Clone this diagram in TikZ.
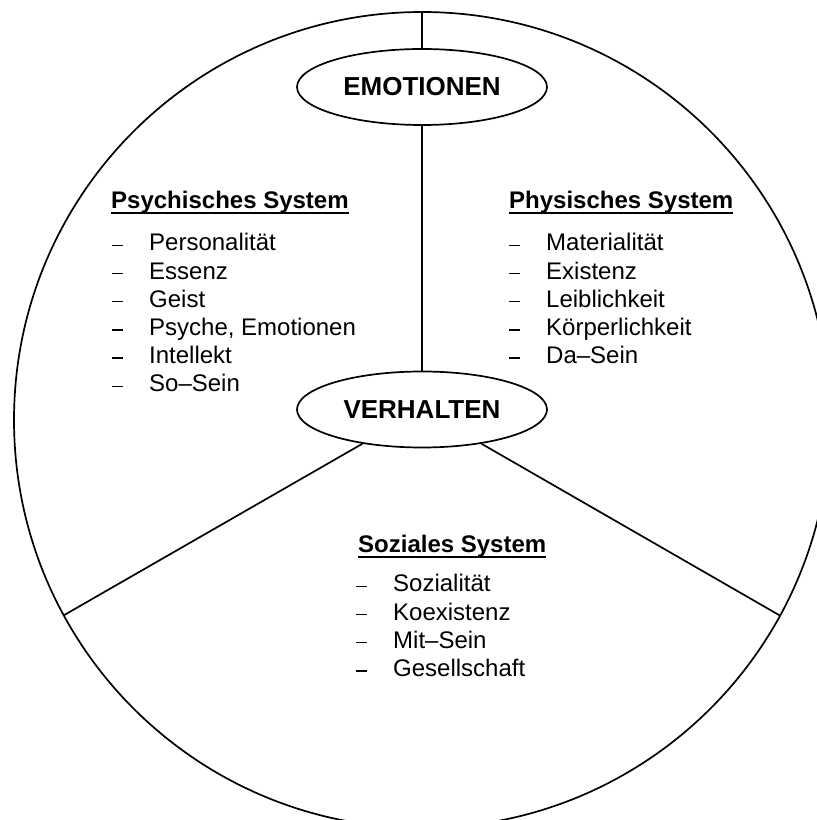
\documentclass[tikz,border=0pt]{standalone}
\usepackage{fontspec}
\setmainfont{Liberation Sans}
\usetikzlibrary{shapes.geometric}

% bullet dash and underlined heading
\newcommand{\dashmark}{\rule[5pt]{11pt}{1.4pt}\hspace{26pt}}
\newcommand{\ulhead}[1]{\setbox0\hbox{#1}\rlap{\rule[-4.7pt]{\wd0}{2pt}}\box0}

\begin{document}
\begin{tikzpicture}[x=1pt,y=1pt,
  frame/.style={line width=1.7pt},
  link/.style={line width=1.7pt},
  bubble/.style={ellipse, draw, line width=1.7pt, fill=white,
    minimum width=250pt, minimum height=76pt, inner sep=0pt,
    font=\fontsize{26}{30}\selectfont\bfseries},
  head/.style={anchor=base west, inner sep=0pt,
    font=\fontsize{24}{28}\selectfont\bfseries},
  item/.style={anchor=base west, inner sep=0pt,
    font=\fontsize{24}{28}\selectfont}]
\useasboundingbox (0,0) rectangle (817,820);
\clip (0,0) rectangle (817,820);

% outer circle and its three division points
\coordinate (C) at (422,400);
\draw[frame] (C) circle (408pt);
\coordinate (top) at ([shift={(90:408)}]C);
\coordinate (pl) at ([shift={(208.6:408)}]C);
\coordinate (pr) at ([shift={(331.35:408)}]C);

% the two central ellipses
\node[bubble] (emo) at (422,733) {EMOTIONEN};
\node[bubble] (verh) at (422,410.5) {VERHALTEN};

% dividing lines
\draw[link] (top) -- (emo);
\draw[link] (emo) -- (verh);
\draw[link] (verh) -- (pl);
\draw[link] (verh) -- (pr);

% psychisches System
\node[head] (psyh) at (111,611) {\ulhead{Psychisches System}};
\node[item] (psy1) at (112,569) {\dashmark Personalität};
\node[item] (psy2) at (112,540.8) {\dashmark Essenz};
\node[item] (psy3) at (112,512.6) {\dashmark Geist};
\node[item] (psy4) at (112,484.4) {\dashmark Psyche, Emotionen};
\node[item] (psy5) at (112,456.2) {\dashmark Intellekt};
\node[item] (psy6) at (112,428) {\dashmark So–Sein};

% physisches System
\node[head] (phyh) at (509,611) {\ulhead{Physisches System}};
\node[item] (phy1) at (509,569) {\dashmark Materialität};
\node[item] (phy2) at (509,540.8) {\dashmark Existenz};
\node[item] (phy3) at (509,512.6) {\dashmark Leiblichkeit};
\node[item] (phy4) at (509,484.4) {\dashmark Körperlichkeit};
\node[item] (phy5) at (509,456.2) {\dashmark Da–Sein};

% soziales System
\node[head] (sozh) at (358,267) {\ulhead{Soziales System}};
\node[item] (soz1) at (356,228) {\dashmark Sozialität};
\node[item] (soz2) at (356,199.8) {\dashmark Koexistenz};
\node[item] (soz3) at (356,171.6) {\dashmark Mit–Sein};
\node[item] (soz4) at (356,143.4) {\dashmark Gesellschaft};
\end{tikzpicture}
\end{document}
